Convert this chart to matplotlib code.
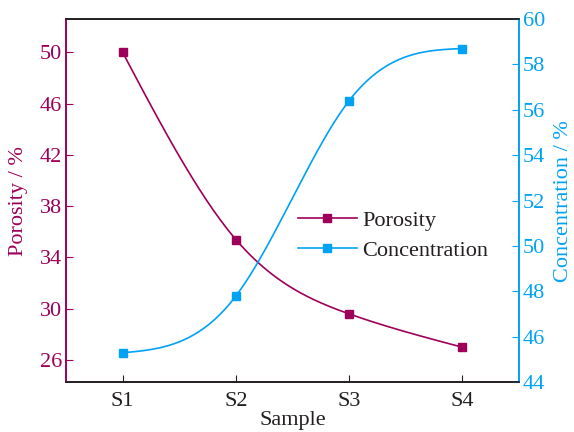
import numpy as np
import matplotlib
matplotlib.use("Agg")
import matplotlib.pyplot as plt

plt.rcParams['font.family'] = ['Liberation Serif', 'DejaVu Serif']

samples = ["S1", "S2", "S3", "S4"]
porosity = [50.0, 35.4, 29.6, 27.0]
concentration = [45.3, 47.8, 56.4, 58.7]

red = "#9E0059"
blue = "#00A2F5"
dark = "#231F20"


def natural_spline(y, n=200):
    # natural cubic spline through equally spaced points (h = 1)
    y = np.asarray(y, float)
    m = len(y)
    A = np.zeros((m, m))
    b = np.zeros(m)
    A[0, 0] = A[-1, -1] = 1
    for i in range(1, m - 1):
        A[i, i - 1], A[i, i], A[i, i + 1] = 1, 4, 1
        b[i] = 6 * (y[i + 1] - 2 * y[i] + y[i - 1])
    M = np.linalg.solve(A, b)
    xs = np.linspace(0, m - 1, n)
    ys = np.empty_like(xs)
    for k, x in enumerate(xs):
        i = min(int(x), m - 2)
        t = x - i
        ys[k] = (M[i] * (1 - t) ** 3 / 6 + M[i + 1] * t ** 3 / 6
                 + (y[i] - M[i] / 6) * (1 - t) + (y[i + 1] - M[i + 1] / 6) * t)
    return xs, ys


x = np.arange(len(samples))
fs = 16

fig = plt.figure(figsize=(5.74, 4.32), dpi=100)
ax = fig.add_axes([0.115, 0.115, 0.789, 0.841])
ax2 = ax.twinx()

xs, ys = natural_spline(porosity)
ax.plot(xs, ys, color=red, lw=1.2)
ax.plot(x, porosity, 's', color=red, ms=6)
xs, ys = natural_spline(concentration)
ax2.plot(xs, ys, color=blue, lw=1.2)
ax2.plot(x, concentration, 's', color=blue, ms=6)

ax.set_xlim(-0.5, 3.5)
ax.set_ylim(24.26, 52.6)
ax2.set_ylim(44, 60)
ax.set_xticks(x)
ax.set_xticklabels(samples)
ax.set_yticks(np.arange(26, 51, 4))
ax2.set_yticks(np.arange(44, 61, 2))

ax.tick_params(axis='x', direction='in', length=5, colors=dark, labelsize=fs, pad=7)
ax.tick_params(axis='y', direction='in', length=5, color=red, labelcolor=red, labelsize=fs, pad=3)
ax2.tick_params(axis='y', direction='in', length=5, color=blue, labelcolor=blue, labelsize=fs, pad=3)

for a in (ax, ax2):
    a.spines['top'].set_color(dark)
    a.spines['bottom'].set_color(dark)
    a.spines['left'].set_color(red)
    a.spines['right'].set_color(blue)
    for s in a.spines.values():
        s.set_linewidth(1.2)

ax.set_xlabel("Sample", fontsize=fs, color=dark, labelpad=0)
ax.set_ylabel("Porosity / %", fontsize=fs, color=red, labelpad=8)
ax2.set_ylabel("Concentration / %", fontsize=fs, color=blue, labelpad=6)

h1 = plt.Line2D([], [], color=red, marker='s', ms=6, lw=1.2)
h2 = plt.Line2D([], [], color=blue, marker='s', ms=6, lw=1.2)
leg = ax.legend([h1, h2], ["Porosity", "Concentration"], frameon=False, fontsize=fs,
                loc='center left', bbox_to_anchor=(0.512, 0.404), handlelength=2.65,
                handletextpad=0.25, labelspacing=0.45, borderpad=0, borderaxespad=0)
for t in leg.get_texts():
    t.set_color(dark)

fig.savefig("out.png", dpi=100)
